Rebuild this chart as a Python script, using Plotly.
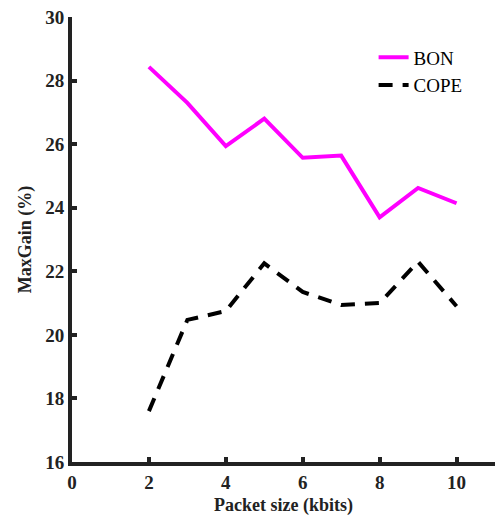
import plotly.graph_objects as go

packet_size = [2, 3, 4, 5, 6, 7, 8, 9, 10]
bon = [28.43, 27.3, 25.94, 26.8, 25.57, 25.64, 23.7, 24.62, 24.14]
cope = [17.6, 20.47, 20.75, 22.25, 21.35, 20.94, 21.0, 22.3, 20.9]

x_ticks = [0, 2, 4, 6, 8, 10]
y_ticks = [16, 18, 20, 22, 24, 26, 28, 30]

SERIF = "Liberation Serif, Times New Roman, serif"

fig = go.Figure()
fig.add_trace(go.Scatter(x=packet_size, y=bon, mode="lines", name="BON",
                         line=dict(color="#ff00ff", width=4)))
fig.add_trace(go.Scatter(x=packet_size, y=cope, mode="lines", name="COPE",
                         line=dict(color="black", width=4, dash="14px,10px")))

axis_common = dict(showline=True, linewidth=4, linecolor="#222222",
                   ticks="inside", ticklen=5, tickwidth=4, tickcolor="#222222",
                   showgrid=False, zeroline=False, mirror=False,
                   tickfont=dict(family=SERIF, size=19, color="#222222", weight="bold"))

fig.update_layout(
    width=495, height=524,
    margin=dict(l=72, r=0, t=17, b=62),
    plot_bgcolor="white", paper_bgcolor="white",
    xaxis=dict(range=[0, 11], tickvals=x_ticks,
               title=dict(text="Packet size (kbits)", standoff=8,
                          font=dict(family=SERIF, size=18, color="#222222", weight="bold")),
               **axis_common),
    yaxis=dict(range=[16, 30], tickvals=y_ticks,
               title=dict(text="MaxGain (%)", standoff=10,
                          font=dict(family=SERIF, size=18, color="#222222", weight="bold")),
               **axis_common),
    legend=dict(x=0.713, y=0.952, xanchor="left", yanchor="top",
                bgcolor="rgba(0,0,0,0)",
                font=dict(family=SERIF, size=19, color="black"),
                tracegroupgap=0, itemwidth=30),
    showlegend=True,
)

fig.write_html("out.html")
